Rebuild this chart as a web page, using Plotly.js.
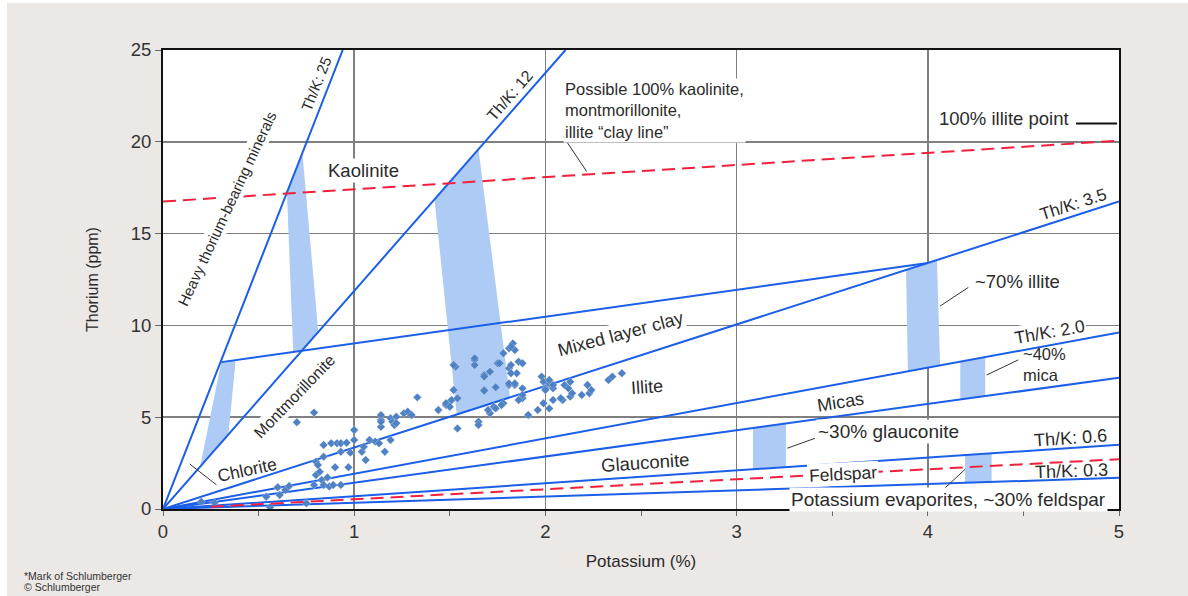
<!DOCTYPE html>
<html><head><meta charset="utf-8">
<script src="https://cdn.plot.ly/plotly-3.0.1.min.js"></script>
<style>
html,body{margin:0;padding:0;background:#ffffff;overflow:hidden;}
#bg{position:absolute;left:7px;top:3px;width:1181px;height:593px;background:#ece8e5;}
#chart{position:absolute;left:0;top:0;width:1188px;height:596px;}
</style></head>
<body><div id="bg"></div><div id="chart"></div>
<script>
// ---------- data ----------
const ratioLineNames = ['Th/K 25', 'Th/K 12', 'Th/K 3.5', 'Th/K 2.0', 'Micas lower', 'Th/K 0.6', 'Th/K 0.3'];
const ratioLineK  = [[0, 0.94], [0, 2.105], [0, 5], [0, 5], [0, 5], [0, 5], [0, 5]];
const ratioLineTh = [[0, 25], [0, 25], [0, 16.75], [0, 9.62], [0, 7.15], [0, 3.5], [0, 1.7]];

const mixedLayerK  = [0.305, 4.0];
const mixedLayerTh = [8.0, 13.4];

const clayLineK  = [0, 5];
const clayLineTh = [16.75, 20.06];

const feldsparLineK  = [0.25, 5];
const feldsparLineTh = [0.12, 2.71];

const bandNames = ['Chlorite', 'Kaolinite/Montmorillonite', 'Illite', '~70% illite', '~40% mica', '~30% glauconite', '~30% feldspar'];
const bandK = [
  [0.305, 0.38, 0.342, 0.194],
  [0.729, 0.648, 0.681, 0.7255, 0.812],
  [1.65, 1.42, 1.536, 1.815],
  [3.886, 4.048, 4.064, 3.896],
  [4.17, 4.30, 4.30, 4.17],
  [3.086, 3.258, 3.258, 3.086],
  [4.195, 4.334, 4.334, 4.195]
];
const bandTh = [
  [8.0, 8.1, 4.06, 2.30],
  [19.4, 17.25, 8.55, 8.62, 9.65],
  [19.6, 16.87, 5.15, 6.08],
  [13.02, 13.56, 7.82, 7.50],
  [8.02, 8.27, 6.15, 5.96],
  [4.41, 4.66, 2.28, 2.16],
  [2.94, 3.03, 1.47, 1.43]
];

const sampleK = [
  0.20,0.27,0.56,0.54,0.60,0.61,0.64,0.66,0.75,0.79,0.80,0.82,0.83,0.84,0.86,0.87,0.89,0.93,
  0.80,0.81,0.84,0.90,0.97,0.84,0.88,0.91,0.93,0.96,0.93,0.98,1.00,1.00,1.04,1.06,1.05,1.08,
  1.11,1.13,1.16,1.19,1.14,1.14,1.19,1.22,0.79,0.70,1.14,1.14,1.20,1.21,1.22,1.26,1.28,1.30,
  1.33,1.44,1.48,1.50,1.48,1.50,1.51,1.54,1.52,1.54,1.53,1.52,1.63,1.63,1.63,1.68,1.68,1.71,
  1.75,1.76,1.78,1.81,1.83,1.84,1.82,1.81,1.82,1.86,1.88,1.85,1.82,1.68,1.68,1.74,1.81,1.84,
  1.81,1.84,1.88,1.88,1.86,1.78,1.73,1.71,1.70,1.65,1.65,1.77,1.74,1.91,1.96,2.02,1.99,1.98,
  1.99,2.02,2.00,2.00,2.04,2.04,2.02,2.04,2.09,2.08,2.13,2.10,2.12,2.13,2.14,2.22,2.19,2.23,
  2.24,2.33,2.35,2.40,1.88
];
const sampleTh = [
  0.40,0.34,0.09,0.67,1.18,0.76,1.03,1.25,0.31,1.31,1.85,2.03,1.58,1.31,1.72,1.22,1.31,1.31,
  2.58,2.40,2.85,2.27,2.27,3.49,3.58,3.58,3.58,3.61,3.12,3.07,4.30,3.76,3.12,2.67,3.39,3.76,
  3.67,3.58,3.12,3.76,4.85,5.12,4.94,5.03,5.25,4.72,4.48,4.75,4.75,4.58,4.67,5.21,5.30,5.12,
  6.08,5.39,5.66,5.84,5.76,5.57,5.94,6.03,6.48,4.39,7.75,7.84,8.12,7.84,8.21,7.30,7.21,7.48,
  7.94,7.94,8.48,8.75,9.02,8.66,8.84,7.66,7.84,8.02,7.94,7.39,7.39,6.48,6.44,6.63,6.75,6.75,
  6.84,6.84,6.57,6.03,5.94,5.76,5.57,5.21,5.39,4.75,4.58,5.66,5.48,5.12,5.39,5.48,5.76,7.21,
  6.93,6.84,6.57,6.48,6.57,6.75,7.03,5.94,5.94,6.03,6.12,6.75,6.57,6.93,6.30,6.75,6.21,6.30,
  6.48,7.03,7.21,7.39,6.21
];

const xTickVals = [0, 1, 2, 3, 4, 5];
const yTickVals = [0, 5, 10, 15, 20, 25];

// ---------- traces ----------
const BLUE = '#1b5ee8';
const traces = [];
bandNames.forEach((n, i) => {
  traces.push({x: bandK[i], y: bandTh[i], name: n, type: 'scatter', mode: 'lines',
    fill: 'toself', fillcolor: '#aecbf5', line: {width: 0, color: '#aecbf5'}, hoverinfo: 'name', showlegend: false});
});
ratioLineNames.forEach((n, i) => {
  traces.push({x: ratioLineK[i], y: ratioLineTh[i], name: n, type: 'scatter', mode: 'lines',
    line: {color: BLUE, width: 2}, showlegend: false});
});
traces.push({x: mixedLayerK, y: mixedLayerTh, name: 'Mixed layer clay', type: 'scatter', mode: 'lines',
  line: {color: BLUE, width: 2}, showlegend: false});
traces.push({x: sampleK, y: sampleTh, name: 'Samples', type: 'scatter', mode: 'markers',
  marker: {symbol: 'diamond', size: 6.5, color: '#4f82c4', line: {color: 'rgba(255,255,255,0.5)', width: 0.5}}, showlegend: false});
traces.push({x: clayLineK, y: clayLineTh, name: 'Clay line', type: 'scatter', mode: 'lines',
  line: {color: '#f2203c', width: 2, dash: '13px,7px'}, showlegend: false});
traces.push({x: feldsparLineK, y: feldsparLineTh, name: 'Feldspar', type: 'scatter', mode: 'lines',
  line: {color: '#f2203c', width: 2, dash: '13px,7px'}, showlegend: false});

// ---------- annotations ----------
const FONT = 'Liberation Sans, Arial, sans-serif';
const TXT = '#2b2b2b';
function ann(x, y, text, size, angle, opts) {
  return Object.assign({x: x, y: y, xref: 'x', yref: 'y', text: text, showarrow: false,
    textangle: angle || 0, font: {family: FONT, size: size, color: TXT}}, opts || {});
}
const WB = {bgcolor: '#ffffff', borderpad: 1};
const WBL = {bgcolor: '#ffffff', borderpad: 1, xanchor: 'left', align: 'left'};
const annotations = [
  ann(0.333, 16.39, 'Heavy thorium-bearing minerals', 15, -65, WB),
  ann(0.80, 23.2, 'Th/K: 25', 15, -68),
  ann(1.815, 22.5, 'Th/K: 12', 16, -49),
  ann(1.048, 18.43, 'Kaolinite', 18.5, 0, WB),
  ann(2.094, 21.73, 'Possible 100% kaolinite,<br>montmorillonite,<br>illite “clay line”', 16.5, 0, WBL),
  ann(4.40, 21.28, '100% illite point', 18.5, 0),
  ann(4.76, 16.56, 'Th/K: 3.5', 17, -18),
  ann(4.469, 12.38, '~70% illite', 18.5, 0),
  ann(4.634, 9.66, 'Th/K: 2.0', 17.5, -10, WB),
  ann(4.488, 7.87, '~40%<br>mica', 16.5, 0, {xanchor: 'left', align: 'left'}),
  ann(2.395, 9.53, 'Mixed layer clay', 18, -15, WB),
  ann(2.529, 6.63, 'Illite', 18, -4),
  ann(0.686, 6.15, 'Montmorillonite', 16, -46, WB),
  ann(0.438, 2.12, 'Chlorite', 17.5, -12),
  ann(3.545, 5.85, 'Micas', 18, -9),
  ann(3.797, 4.21, '~30% glauconite', 19, 0, WB),
  ann(2.52, 2.56, 'Glauconite', 18.5, -4),
  ann(4.744, 3.89, 'Th/K: 0.6', 18, -4),
  ann(3.554, 1.93, 'Feldspar', 17.5, -3, WB),
  ann(4.75, 2.07, 'Th/K: 0.3', 18, -2),
  ann(4.109, 0.53, 'Potassium evaporites, ~30% feldspar', 19, 0, WB),
  {xref: 'paper', yref: 'paper', x: -0.1478, y: -0.146, xanchor: 'left', yanchor: 'middle', showarrow: false,
   text: '*Mark of Schlumberger', font: {family: FONT, size: 10.5, color: '#333'}},
  {xref: 'paper', yref: 'paper', x: -0.1478, y: -0.1706, xanchor: 'left', yanchor: 'middle', showarrow: false,
   text: '© Schlumberger', font: {family: FONT, size: 10.5, color: '#333'}}
];

function seg(x0, y0, x1, y1, w, c) {
  return {type: 'line', xref: 'x', yref: 'y', x0: x0, y0: y0, x1: x1, y1: y1,
    line: {color: c || '#333333', width: w || 1}};
}
const shapes = [
  seg(2.094, 20.28, 2.216, 18.38),
  seg(4.775, 21.0, 4.99, 21.0, 2, '#111111'),
  seg(4.064, 11.05, 4.212, 12.07),
  seg(4.308, 7.30, 4.473, 8.12),
  seg(3.265, 3.31, 3.41, 3.85),
  seg(4.05, 0.76, 4.195, 2.16),
  seg(0.14, 2.45, 0.28, 1.31)
];

const layout = {
  width: 1188, height: 596,
  margin: {l: 163, r: 69, t: 50, b: 87, pad: 0},
  paper_bgcolor: 'rgba(0,0,0,0)',
  plot_bgcolor: '#ffffff',
  showlegend: false,
  font: {family: FONT, color: TXT},
  xaxis: {
    range: [0, 5], tickvals: xTickVals, ticktext: xTickVals.map(String),
    showgrid: true, gridcolor: '#7f7f7f', gridwidth: 1.5,
    zeroline: false, showline: true, linecolor: '#111111', linewidth: 2, mirror: true,
    ticks: 'outside', ticklen: 5, tickcolor: '#666666', tickwidth: 1,
    minor: {dtick: 0.5, tick0: 0, ticks: 'outside', ticklen: 5, tickcolor: '#666666', showgrid: false},
    tickfont: {family: FONT, size: 18.5, color: '#333333'},
    title: {text: 'Potassium (%)', font: {family: FONT, size: 17, color: '#2b2b2b'}, standoff: 14}
  },
  yaxis: {
    range: [0, 25], tickvals: yTickVals, ticktext: yTickVals.map(String),
    showgrid: true, gridcolor: '#7f7f7f', gridwidth: 1.5,
    zeroline: false, showline: true, linecolor: '#111111', linewidth: 2, mirror: true,
    ticks: 'outside', ticklen: 6, tickcolor: '#666666', tickwidth: 1,
    tickfont: {family: FONT, size: 18.5, color: '#333333'},
    title: {text: 'Thorium (ppm)', font: {family: FONT, size: 16, color: '#2b2b2b'}, standoff: 28}
  },
  annotations: annotations,
  shapes: shapes
};

Plotly.newPlot('chart', traces, layout, {staticPlot: true, displayModeBar: false});
</script>
</body></html>
